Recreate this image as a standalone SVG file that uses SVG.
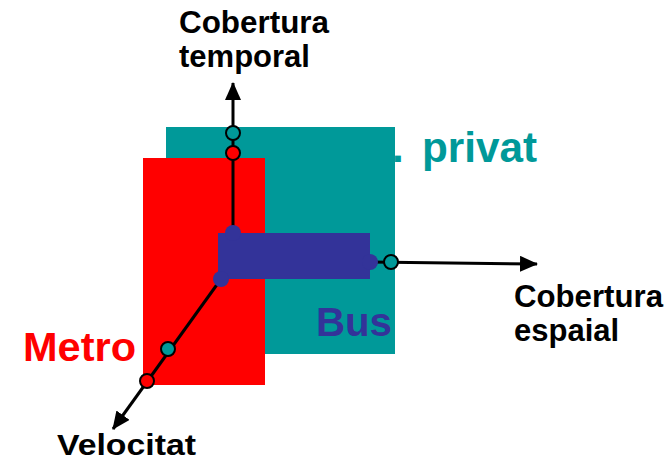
<svg xmlns="http://www.w3.org/2000/svg" width="665" height="462" viewBox="0 0 665 462">
<defs>
<style>
.lbl{font-family:"Liberation Sans",Arial,sans-serif;font-weight:bold;}
.axis{stroke:#000;stroke-width:3;fill:none;marker-end:url(#arr);}
.pt{stroke:#000;stroke-width:2;}
</style>
<marker id="arr" markerUnits="userSpaceOnUse" viewBox="0 0 18 16" markerWidth="18" markerHeight="16" refX="17" refY="8" orient="auto">
<path d="M0,0 L18,8 L0,16 z" fill="#000"/>
</marker>
</defs>
<rect width="665" height="462" fill="#fff"/>
<g id="privat">
<rect x="166" y="127" width="229" height="227" fill="#009999"/>
<text class="lbl" x="392" y="162" font-size="42" fill="#009999">.<tspan x="422" textLength="115" lengthAdjust="spacingAndGlyphs">privat</tspan></text>
</g>
<g id="metro">
<rect x="143" y="158" width="122" height="227" fill="#ff0000"/>
<text class="lbl" x="23" y="361" font-size="40" fill="#ff0000" textLength="113" lengthAdjust="spacingAndGlyphs">Metro</text>
</g>
<g id="connectors">
<line class="axis" x1="233" y1="233" x2="233" y2="83"/>
<line class="axis" x1="370" y1="262" x2="537" y2="264"/>
<line class="axis" x1="221" y1="279" x2="113" y2="429"/>
<circle class="pt" cx="233" cy="133" r="7" fill="#009999"/>
<circle class="pt" cx="233" cy="153" r="7" fill="#ff0000"/>
<circle class="pt" cx="391" cy="262" r="7" fill="#009999"/>
<circle class="pt" cx="168" cy="349" r="7" fill="#009999"/>
<circle class="pt" cx="147" cy="381" r="7" fill="#ff0000"/>
</g>
<g id="bus">
<rect x="218" y="233" width="152" height="46" fill="#333399"/>
<circle cx="233" cy="233" r="8" fill="#333399"/>
<circle cx="221" cy="279" r="8" fill="#333399"/>
<circle cx="370" cy="262" r="8" fill="#333399"/>
<text class="lbl" x="316" y="336" font-size="40" fill="#333399" textLength="76" lengthAdjust="spacingAndGlyphs">Bus</text>
</g>
<g id="labels">
<text class="lbl" font-size="31" fill="#000"><tspan x="179" y="33" textLength="150" lengthAdjust="spacingAndGlyphs">Cobertura</tspan><tspan x="179" y="67">temporal</tspan></text>
<text class="lbl" font-size="31" fill="#000"><tspan x="514" y="307" textLength="149" lengthAdjust="spacingAndGlyphs">Cobertura</tspan><tspan x="514" y="341">espaial</tspan></text>
<text class="lbl" x="57" y="455" font-size="30" fill="#000" textLength="139" lengthAdjust="spacingAndGlyphs">Velocitat</text>
</g>
</svg>
